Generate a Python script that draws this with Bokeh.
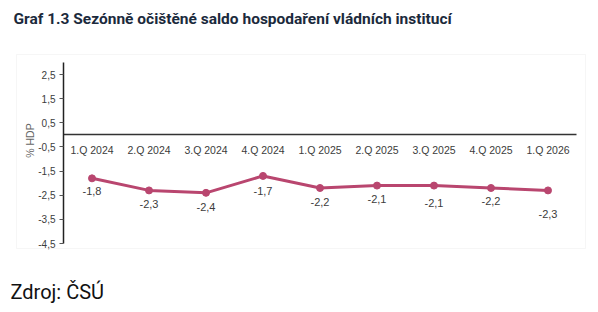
import math
from bokeh.plotting import figure
from bokeh.models import ColumnDataSource, Label, BoxAnnotation, Range1d, FixedTicker, CustomJSTickFormatter
from bokeh.core.properties import value
from bokeh.embed import file_html
from bokeh.resources import INLINE

categories = ["1.Q 2024", "2.Q 2024", "3.Q 2024", "4.Q 2024", "1.Q 2025",
              "2.Q 2025", "3.Q 2025", "4.Q 2025", "1.Q 2026"]
saldo = [-1.8, -2.3, -2.4, -1.7, -2.2, -2.1, -2.1, -2.2, -2.3]
y_ticks = [2.5, 1.5, 0.5, -0.5, -1.5, -2.5, -3.5, -4.5]

labels = [f"{v:.1f}".replace(".", ",") for v in saldo]
# per-label vertical offsets (px, downward) as in the original
label_offsets = [13, 14, 14, 15, 14, 13, 17, 13, 24]
xpos = [i + 0.5 for i in range(len(categories))]

src = ColumnDataSource(dict(x=xpos, y=saldo, lab=labels, off=label_offsets))

LINE = "#b9466f"
GREY = "#3c3c3c"

W, H = 598, 312
# pixel geometry of the plotting area (canvas coords)
AX_L, CAT_W = 63, 57.0
Y_TOP_PX, Y_BOT_PX = 62, 243
Y_TOP, Y_BOT = 3.0, -4.5
ppu = (Y_BOT_PX - Y_TOP_PX) / (Y_TOP - Y_BOT)
zero_px = Y_TOP_PX + Y_TOP * ppu

p = figure(width=W, height=H,
           x_range=Range1d(-AX_L / CAT_W, (W - AX_L) / CAT_W),
           y_range=Range1d(-(H - zero_px) / ppu, zero_px / ppu),
           output_backend="svg", toolbar_location=None,
           min_border=0, min_border_left=0, min_border_right=0,
           min_border_top=0, min_border_bottom=0)
p.outline_line_color = None
p.grid.grid_line_color = None
p.background_fill_color = "white"
p.border_fill_color = "white"

# x axis as zero line
p.xaxis.fixed_location = 0
p.xaxis.bounds = (0, len(categories))
p.xaxis.ticker = FixedTicker(ticks=xpos)
p.xaxis.major_label_overrides = {x: c for x, c in zip(xpos, categories)}
p.xaxis.axis_line_color = "#333333"
p.xaxis.axis_line_width = 1.5
p.xaxis.major_tick_line_color = None
p.xaxis.minor_tick_line_color = None
p.xaxis.major_label_text_font = "Liberation Sans"
p.xaxis.major_label_text_font_size = "10.5px"
p.xaxis.major_label_text_color = GREY
p.xaxis.major_label_standoff = 3

p.yaxis.fixed_location = 0
p.yaxis.bounds = (Y_BOT, Y_TOP)
p.yaxis.ticker = FixedTicker(ticks=y_ticks)
p.yaxis.formatter = CustomJSTickFormatter(code="return tick.toFixed(1).replace('.', ',');")
p.yaxis.axis_line_color = "#222222"
p.yaxis.axis_line_width = 1.5
p.yaxis.major_tick_in = 0
p.yaxis.major_tick_out = 4
p.yaxis.major_tick_line_color = "#555555"
p.yaxis.minor_tick_line_color = None
p.yaxis.major_label_text_font = "Liberation Sans"
p.yaxis.major_label_text_font_size = "10px"
p.yaxis.major_label_text_color = GREY
p.yaxis.major_label_standoff = 4

p.line("x", "y", source=src, line_color=LINE, line_width=3)
p.scatter("x", "y", source=src, size=7, fill_color=LINE, line_color=LINE)
p.text("x", "y", text="lab", source=src, y_offset="off", text_align="center",
       text_baseline="middle", text_font=value("Liberation Sans"),
       text_font_size="11px", text_color=GREY)

# outer light frame
p.add_layout(BoxAnnotation(left=16, right=585, top=H - 54, bottom=H - 248,
                           left_units="screen", right_units="screen",
                           top_units="screen", bottom_units="screen",
                           fill_color=None, line_color="#e2e2e2", line_width=1,
                           level="underlay"))

p.add_layout(Label(x=29, y=H - 140, x_units="screen", y_units="screen", text="% HDP",
                   angle=math.pi / 2, text_align="center", text_baseline="middle",
                   text_font="Liberation Sans", text_font_size="10.5px",
                   text_color="#666666"))

p.add_layout(Label(x=13, y=H - 18, x_units="screen", y_units="screen",
                   text="Graf 1.3 Sezónně očištěné saldo hospodaření vládních institucí",
                   text_align="left", text_baseline="middle",
                   text_font="Roboto", text_font_style="bold",
                   text_font_size="15.5px", text_color="#1b2a3c"))

p.add_layout(Label(x=10, y=H - 291, x_units="screen", y_units="screen",
                   text="Zdroj: ČSÚ", text_align="left", text_baseline="middle",
                   text_font="Roboto", text_font_size="20px",
                   text_color="#111111"))

open("out.html", "w").write(file_html(p, INLINE))
